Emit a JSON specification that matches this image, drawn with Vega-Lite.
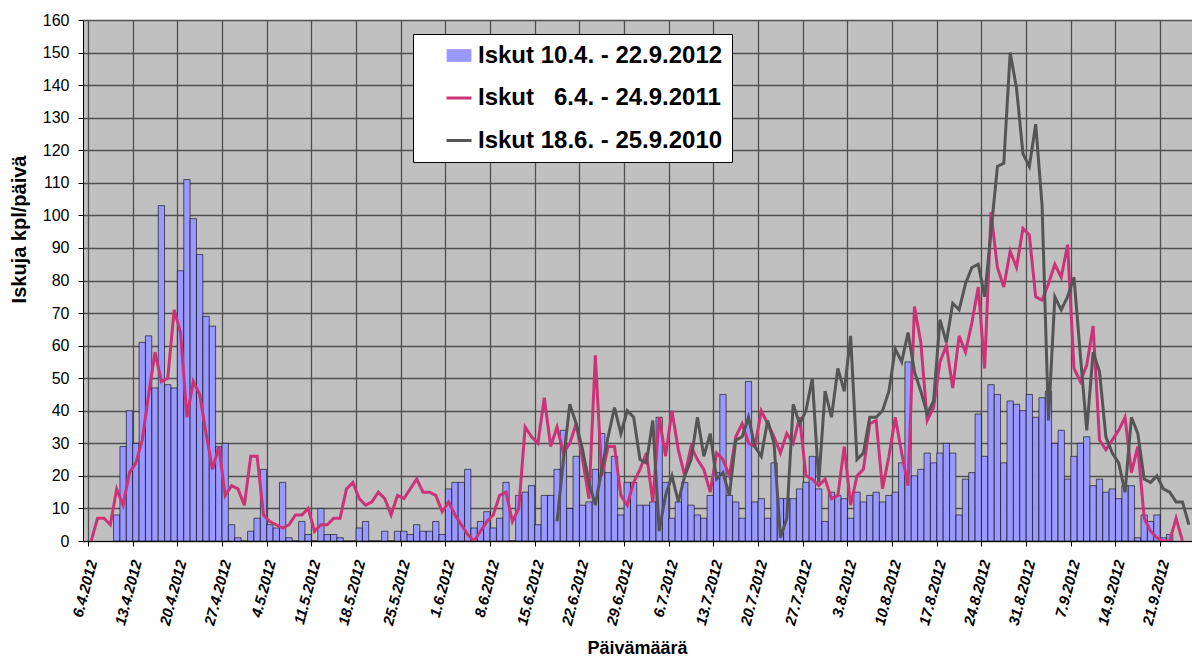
{
  "$schema": "https://vega.github.io/schema/vega-lite/v6.json",
  "autosize": {"type": "none"},
  "padding": {"left": 83, "top": 20, "right": 0, "bottom": 118},
  "width": 1109,
  "height": 521,
  "background": "#ffffff",
  "config": {
    "view": {"fill": "#C0C0C0", "stroke": null},
    "font": "Liberation Sans"
  },
  "datasets": {
    "b2012": [
      {"pvm":"2012-04-10T12:00","n":8},{"pvm":"2012-04-11T12:00","n":29},{"pvm":"2012-04-12T12:00","n":40},{"pvm":"2012-04-13T12:00","n":30},{"pvm":"2012-04-14T12:00","n":61},{"pvm":"2012-04-15T12:00","n":63},{"pvm":"2012-04-16T12:00","n":47},{"pvm":"2012-04-17T12:00","n":103},{"pvm":"2012-04-18T12:00","n":48},{"pvm":"2012-04-19T12:00","n":47},{"pvm":"2012-04-20T12:00","n":83},{"pvm":"2012-04-21T12:00","n":111},{"pvm":"2012-04-22T12:00","n":99},{"pvm":"2012-04-23T12:00","n":88},{"pvm":"2012-04-24T12:00","n":69},{"pvm":"2012-04-25T12:00","n":66},{"pvm":"2012-04-26T12:00","n":29},{"pvm":"2012-04-27T12:00","n":30},{"pvm":"2012-04-28T12:00","n":5},{"pvm":"2012-04-29T12:00","n":1},{"pvm":"2012-04-30T12:00","n":0},
      {"pvm":"2012-05-01T12:00","n":3},{"pvm":"2012-05-02T12:00","n":7},{"pvm":"2012-05-03T12:00","n":22},{"pvm":"2012-05-04T12:00","n":5},{"pvm":"2012-05-05T12:00","n":4},{"pvm":"2012-05-06T12:00","n":18},{"pvm":"2012-05-07T12:00","n":1},{"pvm":"2012-05-08T12:00","n":0},{"pvm":"2012-05-09T12:00","n":6},{"pvm":"2012-05-10T12:00","n":2},{"pvm":"2012-05-11T12:00","n":0},{"pvm":"2012-05-12T12:00","n":10},{"pvm":"2012-05-13T12:00","n":2},{"pvm":"2012-05-14T12:00","n":2},{"pvm":"2012-05-15T12:00","n":1},{"pvm":"2012-05-16T12:00","n":0},{"pvm":"2012-05-17T12:00","n":0},{"pvm":"2012-05-18T12:00","n":4},{"pvm":"2012-05-19T12:00","n":6},{"pvm":"2012-05-20T12:00","n":0},{"pvm":"2012-05-21T12:00","n":0},{"pvm":"2012-05-22T12:00","n":3},{"pvm":"2012-05-23T12:00","n":0},{"pvm":"2012-05-24T12:00","n":3},{"pvm":"2012-05-25T12:00","n":3},{"pvm":"2012-05-26T12:00","n":2},{"pvm":"2012-05-27T12:00","n":5},{"pvm":"2012-05-28T12:00","n":3},{"pvm":"2012-05-29T12:00","n":3},{"pvm":"2012-05-30T12:00","n":6},{"pvm":"2012-05-31T12:00","n":2},
      {"pvm":"2012-06-01T12:00","n":16},{"pvm":"2012-06-02T12:00","n":18},{"pvm":"2012-06-03T12:00","n":18},{"pvm":"2012-06-04T12:00","n":22},{"pvm":"2012-06-05T12:00","n":4},{"pvm":"2012-06-06T12:00","n":6},{"pvm":"2012-06-07T12:00","n":9},{"pvm":"2012-06-08T12:00","n":4},{"pvm":"2012-06-09T12:00","n":7},{"pvm":"2012-06-10T12:00","n":18},{"pvm":"2012-06-11T12:00","n":0},{"pvm":"2012-06-12T12:00","n":14},{"pvm":"2012-06-13T12:00","n":15},{"pvm":"2012-06-14T12:00","n":17},{"pvm":"2012-06-15T12:00","n":5},{"pvm":"2012-06-16T12:00","n":14},{"pvm":"2012-06-17T12:00","n":14},{"pvm":"2012-06-18T12:00","n":22},{"pvm":"2012-06-19T12:00","n":34},{"pvm":"2012-06-20T12:00","n":10},{"pvm":"2012-06-21T12:00","n":26},{"pvm":"2012-06-22T12:00","n":11},{"pvm":"2012-06-23T12:00","n":12},{"pvm":"2012-06-24T12:00","n":22},{"pvm":"2012-06-25T12:00","n":33},{"pvm":"2012-06-26T12:00","n":21},{"pvm":"2012-06-27T12:00","n":26},{"pvm":"2012-06-28T12:00","n":8},{"pvm":"2012-06-29T12:00","n":18},{"pvm":"2012-06-30T12:00","n":18},
      {"pvm":"2012-07-01T12:00","n":11},{"pvm":"2012-07-02T12:00","n":11},{"pvm":"2012-07-03T12:00","n":12},{"pvm":"2012-07-04T12:00","n":38},{"pvm":"2012-07-05T12:00","n":18},{"pvm":"2012-07-06T12:00","n":7},{"pvm":"2012-07-07T12:00","n":12},{"pvm":"2012-07-08T12:00","n":18},{"pvm":"2012-07-09T12:00","n":11},{"pvm":"2012-07-10T12:00","n":8},{"pvm":"2012-07-11T12:00","n":7},{"pvm":"2012-07-12T12:00","n":14},{"pvm":"2012-07-13T12:00","n":21},{"pvm":"2012-07-14T12:00","n":45},{"pvm":"2012-07-15T12:00","n":14},{"pvm":"2012-07-16T12:00","n":12},{"pvm":"2012-07-17T12:00","n":7},{"pvm":"2012-07-18T12:00","n":49},{"pvm":"2012-07-19T12:00","n":12},{"pvm":"2012-07-20T12:00","n":13},{"pvm":"2012-07-21T12:00","n":7},{"pvm":"2012-07-22T12:00","n":24},{"pvm":"2012-07-23T12:00","n":13},{"pvm":"2012-07-24T12:00","n":13},{"pvm":"2012-07-25T12:00","n":13},{"pvm":"2012-07-26T12:00","n":16},{"pvm":"2012-07-27T12:00","n":18},{"pvm":"2012-07-28T12:00","n":26},{"pvm":"2012-07-29T12:00","n":16},{"pvm":"2012-07-30T12:00","n":6},{"pvm":"2012-07-31T12:00","n":15},
      {"pvm":"2012-08-01T12:00","n":14},{"pvm":"2012-08-02T12:00","n":13},{"pvm":"2012-08-03T12:00","n":7},{"pvm":"2012-08-04T12:00","n":15},{"pvm":"2012-08-05T12:00","n":12},{"pvm":"2012-08-06T12:00","n":14},{"pvm":"2012-08-07T12:00","n":15},{"pvm":"2012-08-08T12:00","n":12},{"pvm":"2012-08-09T12:00","n":14},{"pvm":"2012-08-10T12:00","n":15},{"pvm":"2012-08-11T12:00","n":24},{"pvm":"2012-08-12T12:00","n":55},{"pvm":"2012-08-13T12:00","n":20},{"pvm":"2012-08-14T12:00","n":22},{"pvm":"2012-08-15T12:00","n":27},{"pvm":"2012-08-16T12:00","n":24},{"pvm":"2012-08-17T12:00","n":27},{"pvm":"2012-08-18T12:00","n":30},{"pvm":"2012-08-19T12:00","n":27},{"pvm":"2012-08-20T12:00","n":8},{"pvm":"2012-08-21T12:00","n":19},{"pvm":"2012-08-22T12:00","n":21},{"pvm":"2012-08-23T12:00","n":39},{"pvm":"2012-08-24T12:00","n":26},{"pvm":"2012-08-25T12:00","n":48},{"pvm":"2012-08-26T12:00","n":45},{"pvm":"2012-08-27T12:00","n":24},{"pvm":"2012-08-28T12:00","n":43},{"pvm":"2012-08-29T12:00","n":42},{"pvm":"2012-08-30T12:00","n":40},{"pvm":"2012-08-31T12:00","n":45},
      {"pvm":"2012-09-01T12:00","n":38},{"pvm":"2012-09-02T12:00","n":44},{"pvm":"2012-09-03T12:00","n":46},{"pvm":"2012-09-04T12:00","n":30},{"pvm":"2012-09-05T12:00","n":34},{"pvm":"2012-09-06T12:00","n":19},{"pvm":"2012-09-07T12:00","n":26},{"pvm":"2012-09-08T12:00","n":30},{"pvm":"2012-09-09T12:00","n":32},{"pvm":"2012-09-10T12:00","n":17},{"pvm":"2012-09-11T12:00","n":19},{"pvm":"2012-09-12T12:00","n":15},{"pvm":"2012-09-13T12:00","n":16},{"pvm":"2012-09-14T12:00","n":13},{"pvm":"2012-09-15T12:00","n":17},{"pvm":"2012-09-16T12:00","n":17},{"pvm":"2012-09-17T12:00","n":1},{"pvm":"2012-09-18T12:00","n":8},{"pvm":"2012-09-19T12:00","n":6},{"pvm":"2012-09-20T12:00","n":8},{"pvm":"2012-09-21T12:00","n":1},{"pvm":"2012-09-22T12:00","n":2}
    ],
    "l2011": [
      {"pvm":"2012-04-06T12:00","n":0},{"pvm":"2012-04-07T12:00","n":7},{"pvm":"2012-04-08T12:00","n":7},{"pvm":"2012-04-09T12:00","n":5},{"pvm":"2012-04-10T12:00","n":16},{"pvm":"2012-04-11T12:00","n":11},{"pvm":"2012-04-12T12:00","n":21},{"pvm":"2012-04-13T12:00","n":24},{"pvm":"2012-04-14T12:00","n":31},{"pvm":"2012-04-15T12:00","n":45},{"pvm":"2012-04-16T12:00","n":58},{"pvm":"2012-04-17T12:00","n":49},{"pvm":"2012-04-18T12:00","n":50},{"pvm":"2012-04-19T12:00","n":71},{"pvm":"2012-04-20T12:00","n":64},{"pvm":"2012-04-21T12:00","n":38},{"pvm":"2012-04-22T12:00","n":49},{"pvm":"2012-04-23T12:00","n":45},{"pvm":"2012-04-24T12:00","n":33},{"pvm":"2012-04-25T12:00","n":22},{"pvm":"2012-04-26T12:00","n":29},{"pvm":"2012-04-27T12:00","n":14},{"pvm":"2012-04-28T12:00","n":17},{"pvm":"2012-04-29T12:00","n":16},{"pvm":"2012-04-30T12:00","n":11},
      {"pvm":"2012-05-01T12:00","n":26},{"pvm":"2012-05-02T12:00","n":26},{"pvm":"2012-05-03T12:00","n":8},{"pvm":"2012-05-04T12:00","n":6},{"pvm":"2012-05-05T12:00","n":5},{"pvm":"2012-05-06T12:00","n":4},{"pvm":"2012-05-07T12:00","n":5},{"pvm":"2012-05-08T12:00","n":8},{"pvm":"2012-05-09T12:00","n":8},{"pvm":"2012-05-10T12:00","n":10},{"pvm":"2012-05-11T12:00","n":3},{"pvm":"2012-05-12T12:00","n":5},{"pvm":"2012-05-13T12:00","n":5},{"pvm":"2012-05-14T12:00","n":7},{"pvm":"2012-05-15T12:00","n":7},{"pvm":"2012-05-16T12:00","n":16},{"pvm":"2012-05-17T12:00","n":18},{"pvm":"2012-05-18T12:00","n":13},{"pvm":"2012-05-19T12:00","n":11},{"pvm":"2012-05-20T12:00","n":12},{"pvm":"2012-05-21T12:00","n":15},{"pvm":"2012-05-22T12:00","n":13},{"pvm":"2012-05-23T12:00","n":8},{"pvm":"2012-05-24T12:00","n":14},{"pvm":"2012-05-25T12:00","n":13},{"pvm":"2012-05-26T12:00","n":16},{"pvm":"2012-05-27T12:00","n":19},{"pvm":"2012-05-28T12:00","n":15},{"pvm":"2012-05-29T12:00","n":15},{"pvm":"2012-05-30T12:00","n":14},{"pvm":"2012-05-31T12:00","n":9},
      {"pvm":"2012-06-01T12:00","n":12},{"pvm":"2012-06-02T12:00","n":8},{"pvm":"2012-06-03T12:00","n":5},{"pvm":"2012-06-04T12:00","n":2},{"pvm":"2012-06-05T12:00","n":0},{"pvm":"2012-06-06T12:00","n":3},{"pvm":"2012-06-07T12:00","n":6},{"pvm":"2012-06-08T12:00","n":8},{"pvm":"2012-06-09T12:00","n":14},{"pvm":"2012-06-10T12:00","n":15},{"pvm":"2012-06-11T12:00","n":6},{"pvm":"2012-06-12T12:00","n":10},{"pvm":"2012-06-13T12:00","n":35},{"pvm":"2012-06-14T12:00","n":32},{"pvm":"2012-06-15T12:00","n":30},{"pvm":"2012-06-16T12:00","n":44},{"pvm":"2012-06-17T12:00","n":29},{"pvm":"2012-06-18T12:00","n":35},{"pvm":"2012-06-19T12:00","n":27},{"pvm":"2012-06-20T12:00","n":30},{"pvm":"2012-06-21T12:00","n":36},{"pvm":"2012-06-22T12:00","n":25},{"pvm":"2012-06-23T12:00","n":13},{"pvm":"2012-06-24T12:00","n":57},{"pvm":"2012-06-25T12:00","n":20},{"pvm":"2012-06-26T12:00","n":29},{"pvm":"2012-06-27T12:00","n":29},{"pvm":"2012-06-28T12:00","n":14},{"pvm":"2012-06-29T12:00","n":11},{"pvm":"2012-06-30T12:00","n":18},
      {"pvm":"2012-07-01T12:00","n":22},{"pvm":"2012-07-02T12:00","n":27},{"pvm":"2012-07-03T12:00","n":12},{"pvm":"2012-07-04T12:00","n":38},{"pvm":"2012-07-05T12:00","n":26},{"pvm":"2012-07-06T12:00","n":40},{"pvm":"2012-07-07T12:00","n":28},{"pvm":"2012-07-08T12:00","n":20},{"pvm":"2012-07-09T12:00","n":29},{"pvm":"2012-07-10T12:00","n":25},{"pvm":"2012-07-11T12:00","n":22},{"pvm":"2012-07-12T12:00","n":15},{"pvm":"2012-07-13T12:00","n":27},{"pvm":"2012-07-14T12:00","n":25},{"pvm":"2012-07-15T12:00","n":20},{"pvm":"2012-07-16T12:00","n":32},{"pvm":"2012-07-17T12:00","n":36},{"pvm":"2012-07-18T12:00","n":30},{"pvm":"2012-07-19T12:00","n":29},{"pvm":"2012-07-20T12:00","n":40},{"pvm":"2012-07-21T12:00","n":36},{"pvm":"2012-07-22T12:00","n":32},{"pvm":"2012-07-23T12:00","n":27},{"pvm":"2012-07-24T12:00","n":33},{"pvm":"2012-07-25T12:00","n":30},{"pvm":"2012-07-26T12:00","n":38},{"pvm":"2012-07-27T12:00","n":20},{"pvm":"2012-07-28T12:00","n":19},{"pvm":"2012-07-29T12:00","n":17},{"pvm":"2012-07-30T12:00","n":19},{"pvm":"2012-07-31T12:00","n":13},
      {"pvm":"2012-08-01T12:00","n":14},{"pvm":"2012-08-02T12:00","n":29},{"pvm":"2012-08-03T12:00","n":11},{"pvm":"2012-08-04T12:00","n":20},{"pvm":"2012-08-05T12:00","n":22},{"pvm":"2012-08-06T12:00","n":36},{"pvm":"2012-08-07T12:00","n":37},{"pvm":"2012-08-08T12:00","n":16},{"pvm":"2012-08-09T12:00","n":26},{"pvm":"2012-08-10T12:00","n":38},{"pvm":"2012-08-11T12:00","n":27},{"pvm":"2012-08-12T12:00","n":17},{"pvm":"2012-08-13T12:00","n":72},{"pvm":"2012-08-14T12:00","n":61},{"pvm":"2012-08-15T12:00","n":37},{"pvm":"2012-08-16T12:00","n":41},{"pvm":"2012-08-17T12:00","n":55},{"pvm":"2012-08-18T12:00","n":60},{"pvm":"2012-08-19T12:00","n":47},{"pvm":"2012-08-20T12:00","n":63},{"pvm":"2012-08-21T12:00","n":58},{"pvm":"2012-08-22T12:00","n":67},{"pvm":"2012-08-23T12:00","n":78},{"pvm":"2012-08-24T12:00","n":53},{"pvm":"2012-08-25T12:00","n":101},{"pvm":"2012-08-26T12:00","n":84},{"pvm":"2012-08-27T12:00","n":78},{"pvm":"2012-08-28T12:00","n":89},{"pvm":"2012-08-29T12:00","n":84},{"pvm":"2012-08-30T12:00","n":96},{"pvm":"2012-08-31T12:00","n":94},
      {"pvm":"2012-09-01T12:00","n":75},{"pvm":"2012-09-02T12:00","n":74},{"pvm":"2012-09-03T12:00","n":79},{"pvm":"2012-09-04T12:00","n":85},{"pvm":"2012-09-05T12:00","n":81},{"pvm":"2012-09-06T12:00","n":91},{"pvm":"2012-09-07T12:00","n":53},{"pvm":"2012-09-08T12:00","n":49},{"pvm":"2012-09-09T12:00","n":54},{"pvm":"2012-09-10T12:00","n":66},{"pvm":"2012-09-11T12:00","n":31},{"pvm":"2012-09-12T12:00","n":28},{"pvm":"2012-09-13T12:00","n":31},{"pvm":"2012-09-14T12:00","n":34},{"pvm":"2012-09-15T12:00","n":38},{"pvm":"2012-09-16T12:00","n":21},{"pvm":"2012-09-17T12:00","n":29},{"pvm":"2012-09-18T12:00","n":7},{"pvm":"2012-09-19T12:00","n":3},{"pvm":"2012-09-20T12:00","n":1},{"pvm":"2012-09-21T12:00","n":0},{"pvm":"2012-09-22T12:00","n":0},{"pvm":"2012-09-23T12:00","n":7},{"pvm":"2012-09-24T12:00","n":0}
    ],
    "l2010": [
      {"pvm":"2012-06-18T12:00","n":6},{"pvm":"2012-06-19T12:00","n":25},{"pvm":"2012-06-20T12:00","n":42},{"pvm":"2012-06-21T12:00","n":36},{"pvm":"2012-06-22T12:00","n":28},{"pvm":"2012-06-23T12:00","n":18},{"pvm":"2012-06-24T12:00","n":11},{"pvm":"2012-06-25T12:00","n":22},{"pvm":"2012-06-26T12:00","n":32},{"pvm":"2012-06-27T12:00","n":41},{"pvm":"2012-06-28T12:00","n":33},{"pvm":"2012-06-29T12:00","n":40},{"pvm":"2012-06-30T12:00","n":38},
      {"pvm":"2012-07-01T12:00","n":25},{"pvm":"2012-07-02T12:00","n":24},{"pvm":"2012-07-03T12:00","n":37},{"pvm":"2012-07-04T12:00","n":3},{"pvm":"2012-07-05T12:00","n":14},{"pvm":"2012-07-06T12:00","n":20},{"pvm":"2012-07-07T12:00","n":12},{"pvm":"2012-07-08T12:00","n":20},{"pvm":"2012-07-09T12:00","n":25},{"pvm":"2012-07-10T12:00","n":38},{"pvm":"2012-07-11T12:00","n":26},{"pvm":"2012-07-12T12:00","n":33},{"pvm":"2012-07-13T12:00","n":19},{"pvm":"2012-07-14T12:00","n":21},{"pvm":"2012-07-15T12:00","n":14},{"pvm":"2012-07-16T12:00","n":31},{"pvm":"2012-07-17T12:00","n":32},{"pvm":"2012-07-18T12:00","n":38},{"pvm":"2012-07-19T12:00","n":29},{"pvm":"2012-07-20T12:00","n":26},{"pvm":"2012-07-21T12:00","n":37},{"pvm":"2012-07-22T12:00","n":30},{"pvm":"2012-07-23T12:00","n":1},{"pvm":"2012-07-24T12:00","n":7},{"pvm":"2012-07-25T12:00","n":42},{"pvm":"2012-07-26T12:00","n":36},{"pvm":"2012-07-27T12:00","n":40},{"pvm":"2012-07-28T12:00","n":50},{"pvm":"2012-07-29T12:00","n":18},{"pvm":"2012-07-30T12:00","n":46},{"pvm":"2012-07-31T12:00","n":38},
      {"pvm":"2012-08-01T12:00","n":53},{"pvm":"2012-08-02T12:00","n":46},{"pvm":"2012-08-03T12:00","n":63},{"pvm":"2012-08-04T12:00","n":25},{"pvm":"2012-08-05T12:00","n":27},{"pvm":"2012-08-06T12:00","n":38},{"pvm":"2012-08-07T12:00","n":38},{"pvm":"2012-08-08T12:00","n":40},{"pvm":"2012-08-09T12:00","n":46},{"pvm":"2012-08-10T12:00","n":59},{"pvm":"2012-08-11T12:00","n":55},{"pvm":"2012-08-12T12:00","n":64},{"pvm":"2012-08-13T12:00","n":52},{"pvm":"2012-08-14T12:00","n":46},{"pvm":"2012-08-15T12:00","n":39},{"pvm":"2012-08-16T12:00","n":43},{"pvm":"2012-08-17T12:00","n":68},{"pvm":"2012-08-18T12:00","n":61},{"pvm":"2012-08-19T12:00","n":73},{"pvm":"2012-08-20T12:00","n":71},{"pvm":"2012-08-21T12:00","n":79},{"pvm":"2012-08-22T12:00","n":84},{"pvm":"2012-08-23T12:00","n":85},{"pvm":"2012-08-24T12:00","n":75},{"pvm":"2012-08-25T12:00","n":95},{"pvm":"2012-08-26T12:00","n":115},{"pvm":"2012-08-27T12:00","n":116},{"pvm":"2012-08-28T12:00","n":150},{"pvm":"2012-08-29T12:00","n":139},{"pvm":"2012-08-30T12:00","n":119},{"pvm":"2012-08-31T12:00","n":115},
      {"pvm":"2012-09-01T12:00","n":128},{"pvm":"2012-09-02T12:00","n":103},{"pvm":"2012-09-03T12:00","n":37},{"pvm":"2012-09-04T12:00","n":75},{"pvm":"2012-09-05T12:00","n":71},{"pvm":"2012-09-06T12:00","n":75},{"pvm":"2012-09-07T12:00","n":81},{"pvm":"2012-09-08T12:00","n":57},{"pvm":"2012-09-09T12:00","n":34},{"pvm":"2012-09-10T12:00","n":58},{"pvm":"2012-09-11T12:00","n":52},{"pvm":"2012-09-12T12:00","n":32},{"pvm":"2012-09-13T12:00","n":27},{"pvm":"2012-09-14T12:00","n":24},{"pvm":"2012-09-15T12:00","n":15},{"pvm":"2012-09-16T12:00","n":38},{"pvm":"2012-09-17T12:00","n":33},{"pvm":"2012-09-18T12:00","n":19},{"pvm":"2012-09-19T12:00","n":18},{"pvm":"2012-09-20T12:00","n":20},{"pvm":"2012-09-21T12:00","n":16},{"pvm":"2012-09-22T12:00","n":15},{"pvm":"2012-09-23T12:00","n":12},{"pvm":"2012-09-24T12:00","n":12},{"pvm":"2012-09-25T12:00","n":5}
    ]
  },
  "encoding": {
    "x": {
      "field": "pvm", "type": "temporal",
      "scale": {"domain": [{"year": 2012, "month": 4, "date": 6}, {"year": 2012, "month": 9, "date": 25, "hours": 5}], "nice": false},
      "axis": {
        "values": [
          {"year":2012,"month":4,"date":6},{"year":2012,"month":4,"date":13},{"year":2012,"month":4,"date":20},{"year":2012,"month":4,"date":27},
          {"year":2012,"month":5,"date":4},{"year":2012,"month":5,"date":11},{"year":2012,"month":5,"date":18},{"year":2012,"month":5,"date":25},
          {"year":2012,"month":6,"date":1},{"year":2012,"month":6,"date":8},{"year":2012,"month":6,"date":15},{"year":2012,"month":6,"date":22},{"year":2012,"month":6,"date":29},
          {"year":2012,"month":7,"date":6},{"year":2012,"month":7,"date":13},{"year":2012,"month":7,"date":20},{"year":2012,"month":7,"date":27},
          {"year":2012,"month":8,"date":3},{"year":2012,"month":8,"date":10},{"year":2012,"month":8,"date":17},{"year":2012,"month":8,"date":24},{"year":2012,"month":8,"date":31},
          {"year":2012,"month":9,"date":7},{"year":2012,"month":9,"date":14},{"year":2012,"month":9,"date":21}
        ],
        "format": "%-d.%-m.%Y",
        "labelAngle": -75,
        "labelAlign": "right",
        "labelBaseline": "middle",
        "labelFontSize": 15,
        "labelFontWeight": "bold",
        "labelFontStyle": "italic",
        "labelColor": "#000000",
        "labelPadding": 14,
        "labelOffset": 4,
        "labelFlush": false,
        "labelOverlap": false,
        "labelBound": false,
        "tickSize": 5,
        "tickColor": "#000000",
        "domainColor": "#000000",
        "domainWidth": 1,
        "grid": true,
        "gridColor": "#505050",
        "gridWidth": 1.3,
        "title": "Päivämäärä",
        "titleFontSize": 18,
        "titleFontWeight": "bold",
        "titleColor": "#000000",
        "titleX": 554,
        "titleY": 112,
        "titleAlign": "center",
        "titleBaseline": "alphabetic"
      }
    },
    "y": {
      "field": "n", "type": "quantitative",
      "scale": {"domain": [0, 160], "nice": false},
      "axis": {
        "values": [0,10,20,30,40,50,60,70,80,90,100,110,120,130,140,150,160],
        "labelFontSize": 16,
        "labelColor": "#000000",
        "labelPadding": 9,
        "tickSize": 5,
        "tickColor": "#000000",
        "domainColor": "#000000",
        "grid": true,
        "gridColor": "#505050",
        "gridWidth": 1.3,
        "title": "Iskuja kpl/päivä",
        "titleFontSize": 20,
        "titleFontWeight": "bold",
        "titleColor": "#000000",
        "titleX": -58,
        "titleY": 209,
        "titleAlign": "center",
        "titleBaseline": "alphabetic"
      }
    }
  },
  "layer": [
    {
      "data": {"name": "b2012"},
      "mark": {"type": "bar", "width": 6.3, "stroke": "#000000", "strokeWidth": 0.6},
      "encoding": {
        "color": {
          "datum": "Iskut 10.4. - 22.9.2012",
          "type": "nominal",
          "scale": {
            "domain": ["Iskut 10.4. - 22.9.2012", "Iskut\u00a0\u00a0\u00a06.4. - 24.9.2011", "Iskut 18.6. - 25.9.2010"],
            "range": ["#9999FF", "#CC3377", "#555555"]
          },
          "legend": {
            "title": null,
            "orient": "none",
            "legendX": 330,
            "legendY": 14,
            "fillColor": "#ffffff",
            "strokeColor": "#000000",
            "padding": 9.5,
            "symbolOffset": 24.5,
            "symbolSize": 625,
            "symbolType": {"expr": "datum.value === 'Iskut 10.4. - 22.9.2012' ? 'M-0.96,-0.48H0.96V0.48H-0.96Z' : 'stroke'"},
            "symbolStrokeWidth": {"expr": "datum.value === 'Iskut 10.4. - 22.9.2012' ? 0.8 : 3"},
            "labelFontSize": 24,
            "labelFontWeight": "bold",
            "labelFont": "Liberation Sans",
            "labelColor": "#000000",
            "labelOffset": 7,
            "labelLimit": 500,
            "rowPadding": 18.5
          }
        }
      }
    },
    {
      "data": {"name": "l2011"},
      "mark": {"type": "line", "strokeWidth": 3, "clip": true},
      "encoding": {"color": {"datum": "Iskut\u00a0\u00a0\u00a06.4. - 24.9.2011", "type": "nominal"}}
    },
    {
      "data": {"name": "l2010"},
      "mark": {"type": "line", "strokeWidth": 3, "clip": true},
      "encoding": {"color": {"datum": "Iskut 18.6. - 25.9.2010", "type": "nominal"}}
    }
  ]
}
